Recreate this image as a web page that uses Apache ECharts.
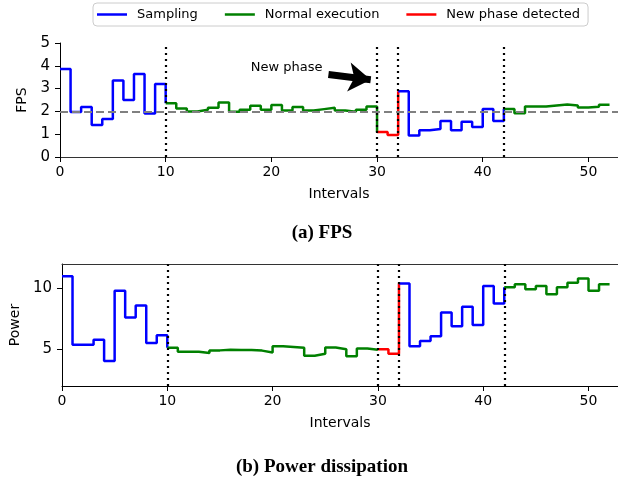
<!DOCTYPE html>
<html><head><meta charset="utf-8">
<script src="https://cdn.jsdelivr.net/npm/echarts@6/dist/echarts.min.js"></script>
<style>html,body{margin:0;padding:0;background:#fff}#c{width:618px;height:480px}</style>
</head><body><div id="c"></div>
<script>
// ---- data ----
const intervals = [0,1,2,3,4,5,6,7,8,9,10,11,12,13,14,15,16,17,18,19,20,21,22,23,24,25,26,27,28,29,30,31,32,33,34,35,36,37,38,39,40,41,42,43,44,45,46,47,48,49,50,51];
const lastInterval = 52;
const fps = [3.86,1.97,2.19,1.40,1.67,3.36,2.50,3.64,1.91,3.20,
             2.36,2.13,2.00,2.07,2.16,2.39,1.98,2.07,2.25,2.07,
             2.28,2.04,2.19,2.04,2.10,2.16,2.04,1.98,2.07,2.22,
             1.10,0.97,
             2.88,0.94,1.17,1.23,1.58,1.17,1.55,1.32,2.11,1.58,
             2.11,1.92,2.21,2.21,2.26,2.30,2.26,2.17,2.20,2.29];
const power = [11.0,5.38,5.38,5.79,4.04,9.80,7.62,8.60,5.52,6.15,
               5.13,4.80,4.80,4.70,4.92,4.98,4.95,4.96,4.90,4.75,
               5.25,5.20,5.13,4.48,4.64,5.16,5.02,4.43,5.08,4.97,
               5.02,4.64,
               10.40,5.25,5.68,6.07,8.03,6.89,8.50,7.00,10.20,8.77,
               10.10,10.33,9.94,10.19,9.53,10.10,10.46,10.82,9.80,10.35];
const phaseNames  = ['Sampling','Normal execution','New phase detected','Sampling','Normal execution'];
const phaseStarts = [0,10,30,32,42];
const phaseEnds   = [10,30,32,42,52];
const phaseChanges = [10,30,32,42];
const fpsTarget = 2;
const xTicks = [0,10,20,30,40,50];
const fpsTicks = [0,1,2,3,4,5];
const powerTicks = [5,10];
const annotationText = 'New phase';
const arrowFrom = [25.4, 3.62];
const arrowTo = [29.4, 3.39];
const textAt = [21.45, 3.92];

// ---- styles ----
const colors = {'Sampling':'#0000ff','Normal execution':'#008000','New phase detected':'#ff0000'};
const FONT = 'DejaVu Sans';
const XMAX = 52.8;

function segment(values, a, b) {
  const pts = [];
  for (let i = a; i < b; i++) pts.push([intervals[i], values[i]]);
  if (b < values.length) pts.push([b, values[b]]);
  else pts.push([lastInterval, values[b - 1]]);
  return pts;
}
const series = [];
[[fps,0],[power,1]].forEach(([vals, g]) => {
  phaseNames.forEach((name, k) => {
    series.push({
      name, type:'line', step:'end', xAxisIndex: g*2, yAxisIndex: g,
      data: segment(vals, phaseStarts[k], phaseEnds[k]),
      symbol:'none', showSymbol:false, z:3,
      lineStyle:{color:colors[name], width:2.5}, itemStyle:{color:colors[name]},
      emphasis:{disabled:true}
    });
  });
  series.push({
    type:'line', xAxisIndex:g*2, yAxisIndex:g, data:[], z:6, silent:true,
    markLine:{
      silent:true, symbol:['none','none'], animation:false,
      label:{show:false},
      lineStyle:{color:'#000', width:2.2, type:[2,4]},
      data: phaseChanges.map(x => ({xAxis:x}))
    }
  });
});
// dashed target line on FPS
series.push({
  type:'line', xAxisIndex:0, yAxisIndex:0, data:[], z:2, silent:true,
  markLine:{silent:true, symbol:['none','none'], animation:false, label:{show:false},
    lineStyle:{color:'#808080', width:2, type:[8,4]}, data:[{yAxis:fpsTarget}]}
});
// arrow + annotation
series.push({
  type:'line', xAxisIndex:0, yAxisIndex:0, data:[], z:7, silent:true,
  markLine:{silent:true, symbol:['none','arrow'], symbolSize:22, animation:false, label:{show:false},
    lineStyle:{color:'#000', width:7, type:'solid'},
    data:[[{coord:arrowFrom},{coord:arrowTo}]]},
  markPoint:{silent:true, animation:false, symbol:'circle', symbolSize:1, itemStyle:{color:'transparent'},
    label:{show:true, position:'inside', formatter:annotationText, color:'#000', fontSize:13, fontFamily:FONT},
    data:[{coord:textAt}]}
});

function xAxes(g) {
  return [{
    type:'value', gridIndex:g, min:0, max:XMAX, interval:10,
    axisLine:{show:true, onZero:false, lineStyle:{color:'#000', width:1}},
    axisTick:{show:true, inside:false, length:5, lineStyle:{color:'#000'}, customValues:xTicks},
    axisLabel:{fontSize:14, color:'#000', margin:8, fontFamily:FONT, customValues:xTicks},
    splitLine:{show:false},
    name:'Intervals', nameLocation:'middle', nameGap:30,
    nameTextStyle:{fontSize:14, color:'#000', fontFamily:FONT}
  },{
    type:'value', gridIndex:g, position:'top', min:0, max:XMAX,
    axisLine:{show:true, lineStyle:{color:'#333', width:1}},
    axisTick:{show:false}, axisLabel:{show:false}, splitLine:{show:false}
  }];
}

const option = {
  animation:false,
  textStyle:{fontFamily:FONT},
  legend:{
    data:['Sampling','Normal execution','New phase detected'],
    left:93, top:3, padding:[5,8,5,4], itemGap:27, itemWidth:30, itemHeight:2.5, icon:'rect',
    borderColor:'#cccccc', borderWidth:1, borderRadius:4,
    textStyle:{fontSize:13, color:'#000', fontFamily:FONT, padding:[0,0,0,5]}
  },
  grid:[
    {left:60, right:0, top:43, height:114},
    {left:60, right:0, top:264, height:122}
  ],
  xAxis:[...xAxes(0), ...xAxes(1)],
  yAxis:[{
    type:'value', gridIndex:0, min:fpsTicks[0], max:fpsTicks[fpsTicks.length-1], interval:1,
    axisLine:{show:true, lineStyle:{color:'#000'}},
    axisTick:{show:true, length:5, lineStyle:{color:'#000'}},
    axisLabel:{fontSize:15, color:'#000', margin:10, fontFamily:FONT},
    splitLine:{show:false},
    name:'FPS', nameLocation:'middle', nameGap:27,
    nameTextStyle:{fontSize:14, color:'#000', fontFamily:FONT}
  },{
    type:'value', gridIndex:1, min:2, max:12,
    axisLine:{show:true, lineStyle:{color:'#000'}},
    axisTick:{show:true, length:5, lineStyle:{color:'#000'}, customValues:powerTicks},
    axisLabel:{fontSize:15, color:'#000', margin:10, fontFamily:FONT, customValues:powerTicks},
    splitLine:{show:false},
    name:'Power', nameLocation:'middle', nameGap:39,
    nameTextStyle:{fontSize:14, color:'#000', fontFamily:FONT}
  }],
  graphic:[
    {type:'text', x:322, y:233, style:{text:'(a) FPS', font:'bold 19px "Liberation Serif"', fill:'#000', align:'center', verticalAlign:'middle', textAlign:'center', textVerticalAlign:'middle'}},
    {type:'text', x:322, y:467, style:{text:'(b) Power dissipation', font:'bold 19px "Liberation Serif"', fill:'#000', align:'center', verticalAlign:'middle', textAlign:'center', textVerticalAlign:'middle'}}
  ],
  series
};
const chart = echarts.init(document.getElementById('c'), null, {renderer:'canvas'});
chart.setOption(option);
</script>
</body></html>
